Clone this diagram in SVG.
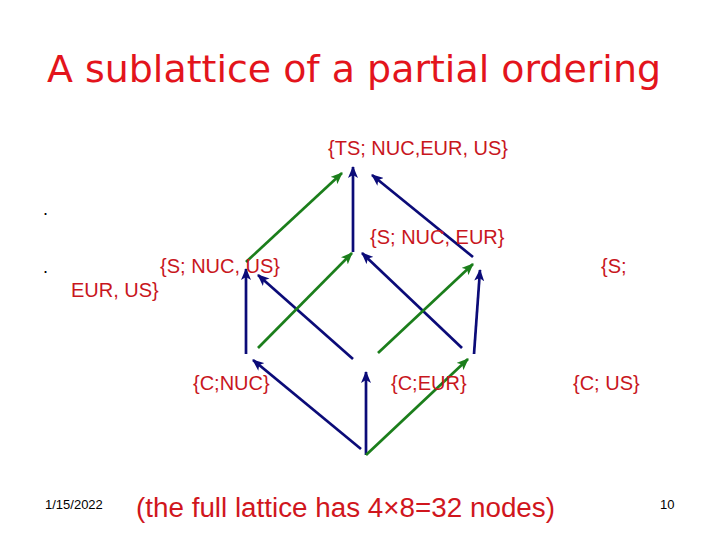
<svg xmlns="http://www.w3.org/2000/svg" width="720" height="540" viewBox="0 0 720 540">
<style>
.title{font-family:"DejaVu Sans","Liberation Sans",sans-serif;font-size:38px;fill:#E3141C}
.lbl{font-family:"Liberation Sans",Arial,sans-serif;font-size:20px;fill:#C8161D}
.foot{font-family:"Liberation Sans",Arial,sans-serif;font-size:13px;fill:#000}
.dot{font-family:"Liberation Sans",Arial,sans-serif;font-size:18px;fill:#000}
.big{font-family:"Liberation Sans",Arial,sans-serif;font-size:27px;fill:#D0161D}
.b{stroke:#0B0B78;stroke-width:2.7;fill:none;marker-end:url(#ab)}
.g{stroke:#1B7E1B;stroke-width:2.7;fill:none;marker-end:url(#ag)}
</style>
<defs>
<marker id="ab" markerUnits="userSpaceOnUse" markerWidth="12" markerHeight="10" viewBox="0 0 12 10" refX="11" refY="5" orient="auto">
<path d="M0,0 L12,5 L0,10 L3,5 z" fill="#0B0B78"/>
</marker>
<marker id="ag" markerUnits="userSpaceOnUse" markerWidth="12" markerHeight="10" viewBox="0 0 12 10" refX="11" refY="5" orient="auto">
<path d="M0,0 L12,5 L0,10 L3,5 z" fill="#1B7E1B"/>
</marker>
</defs>
<rect width="720" height="540" fill="#fff"/>
<text class="title" x="47" y="82" textLength="614" lengthAdjust="spacingAndGlyphs">A sublattice of a partial ordering</text>
<text class="dot" x="43" y="215">.</text>
<text class="dot" x="43" y="273" fill="#666">.</text>
<g id="connectors">
<line class="g" x1="246" y1="262" x2="342" y2="173"/>
<line class="b" x1="353" y1="252" x2="353" y2="167"/>
<line class="b" x1="473" y1="257" x2="372" y2="175"/>
<line class="b" x1="246" y1="354" x2="246" y2="269"/>
<line class="b" x1="353" y1="359" x2="258" y2="275"/>
<line class="g" x1="258" y1="348" x2="352" y2="253"/>
<line class="b" x1="462" y1="348" x2="362" y2="253"/>
<line class="g" x1="378" y1="353" x2="473" y2="264"/>
<line class="b" x1="474" y1="354" x2="480" y2="270"/>
<line class="b" x1="361" y1="449" x2="253" y2="360"/>
<line class="b" x1="366" y1="455" x2="366" y2="372"/>
<line class="g" x1="366" y1="455" x2="468" y2="359"/>
</g>
<g id="n-top"><text class="lbl" x="328" y="155">{TS; NUC,EUR, US}</text></g>
<g id="n-s-nuc-eur"><text class="lbl" x="370" y="244">{S; NUC, EUR}</text></g>
<g id="n-s-nuc-us"><text class="lbl" x="160" y="273">{S; NUC, US}</text></g>
<g id="n-s-eur-us"><text class="lbl" x="601" y="273">{S;</text><text class="lbl" x="71" y="297">EUR, US}</text></g>
<g id="n-c-nuc"><text class="lbl" x="193" y="390">{C;NUC}</text></g>
<g id="n-c-eur"><text class="lbl" x="391" y="390">{C;EUR}</text></g>
<g id="n-c-us"><text class="lbl" x="573" y="390">{C; US}</text></g>
<text class="foot" x="45" y="509">1/15/2022</text>
<text class="foot" x="660" y="509">10</text>
<text class="big" x="136" y="517" textLength="419" lengthAdjust="spacingAndGlyphs">(the full lattice has 4×8=32 nodes)</text>
</svg>
